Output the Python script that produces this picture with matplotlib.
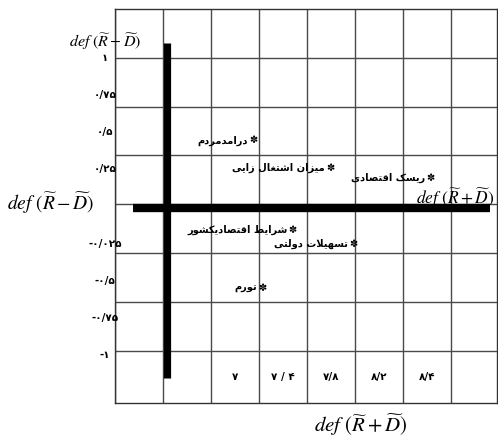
import matplotlib
matplotlib.use('Agg')
import matplotlib.pyplot as plt
from matplotlib.ticker import MultipleLocator

plt.rcParams['mathtext.fontset'] = 'stix'
plt.rcParams['font.family'] = ['DejaVu Sans']

# factors: name, def(R+D), def(R-D)
factors = ['درامدمردم', 'میزان اشتغال زایی', 'ریسک اقتصادی',
           'شرایط اقتصادیکشور', 'تسهیلات دولتی', 'تورم']
r_plus_d = [7.15, 7.79, 8.625, 7.48, 7.985, 7.225]
r_minus_d = [0.445, 0.26, 0.19, -0.16, -0.255, -0.55]

# axis labels as they are written in the source figure
y_tick_vals = [1, 0.75, 0.5, 0.25, -0.25, -0.5, -0.75, -1]
y_tick_text = ['۱', '۰/۷۵', '۰/۵', '۰/۲۵', '-۰/۰۲۵', '-۰/۵', '-۰/۷۵', '-۱']
x_tick_vals = [7.0, 7.4, 7.8, 8.2, 8.6]
x_tick_text = ['۷', '۷ / ۴', '۷/۸', '۸/۲', '۸/۴']

label_rd = r'$def\ (\widetilde{R}-\widetilde{D})$'
label_rpd = r'$def\ (\widetilde{R}+\widetilde{D})$'


# matplotlib has no arabic shaping, so pick presentation forms by hand
# (isolated, final, initial, medial)
FORMS = {
    'ا': ('\ufe8d', '\ufe8e', None, None),
    'ت': ('\ufe95', '\ufe96', '\ufe97', '\ufe98'),
    'د': ('\ufea9', '\ufeaa', None, None),
    'ر': ('\ufead', '\ufeae', None, None),
    'ز': ('\ufeaf', '\ufeb0', None, None),
    'س': ('\ufeb1', '\ufeb2', '\ufeb3', '\ufeb4'),
    'ش': ('\ufeb5', '\ufeb6', '\ufeb7', '\ufeb8'),
    'ص': ('\ufeb9', '\ufeba', '\ufebb', '\ufebc'),
    'ط': ('\ufec1', '\ufec2', '\ufec3', '\ufec4'),
    'غ': ('\ufecd', '\ufece', '\ufecf', '\ufed0'),
    'ق': ('\ufed5', '\ufed6', '\ufed7', '\ufed8'),
    'ل': ('\ufedd', '\ufede', '\ufedf', '\ufee0'),
    'م': ('\ufee1', '\ufee2', '\ufee3', '\ufee4'),
    'ن': ('\ufee5', '\ufee6', '\ufee7', '\ufee8'),
    'ه': ('\ufee9', '\ufeea', '\ufeeb', '\ufeec'),
    'و': ('\ufeed', '\ufeee', None, None),
    'ی': ('\ufbfc', '\ufbfd', '\ufbfe', '\ufbff'),
    'ک': ('\ufb8e', '\ufb8f', '\ufb90', '\ufb91'),
}


def shape(text):
    out = []
    i = 0
    prev_joins = False
    while i < len(text):
        ch = text[i]
        nxt = text[i + 1] if i + 1 < len(text) else ''
        if ch not in FORMS:
            out.append(ch)
            prev_joins = False
            i += 1
            continue
        if ch == 'ل' and nxt == 'ا':
            out.append('\ufefc' if prev_joins else '\ufefb')
            prev_joins = False
            i += 2
            continue
        dual = FORMS[ch][2] is not None
        next_joins = dual and nxt in FORMS
        if prev_joins and next_joins:
            out.append(FORMS[ch][3])
        elif prev_joins:
            out.append(FORMS[ch][1])
        elif next_joins:
            out.append(FORMS[ch][2])
        else:
            out.append(FORMS[ch][0])
        prev_joins = dual
        i += 1
    return ''.join(reversed(out))


fig = plt.figure(figsize=(4.98, 4.38), dpi=100)
ax = fig.add_axes([115 / 498, 35 / 438, 382 / 498, 394 / 438])
ax.set_xlim(6.0, 9.183)
ax.set_ylim(-1.323, 1.330)

# background table grid
ax.xaxis.set_major_locator(MultipleLocator(0.4))
ax.set_yticks([1.0, 0.67, 0.345, 0.015, -0.315, -0.645, -0.975])
ax.grid(True, color='#4a4a4a', linewidth=1.0)
ax.tick_params(length=0, labelbottom=False, labelleft=False)
for s in ax.spines.values():
    s.set_color('#333333')
    s.set_linewidth(1.0)

# thick axes of the diagram
ax.plot([6.433, 6.433], [-1.155, 1.10], color='black', lw=5.2,
        solid_capstyle='butt', zorder=4)
ax.plot([6.15, 9.125], [-0.01, -0.01], color='black', lw=6,
        solid_capstyle='butt', zorder=4)

# points with their names
for name, xv, yv in zip(factors, r_plus_d, r_minus_d):
    ax.text(xv, yv, '\u273d', ha='center', va='center', fontsize=7,
            zorder=5)
    ax.annotate(shape(name), (xv, yv), xytext=(-3.5, 0),
                textcoords='offset points', ha='right', va='center',
                fontsize=7.1, fontweight='bold', zorder=5)

for v, t in zip(y_tick_vals, y_tick_text):
    ax.text(5.917, v, t, ha='center', va='center', fontsize=7.5,
            fontweight='bold', clip_on=False)
for v, t in zip(x_tick_vals, x_tick_text):
    ax.text(v, -1.148, t, ha='center', va='center', fontsize=7.5,
            fontweight='bold')

# axis titles, written in the corners like the original
ax.text(5.917, 1.11, label_rd, ha='center', va='center', fontsize=11.5,
        clip_on=False)
ax.text(5.1, 0.02, label_rd, ha='left', va='center', fontsize=14,
        clip_on=False)
ax.text(8.833, 0.057, label_rpd, ha='center', va='center', fontsize=12.5,
        zorder=3)
ax.text(8.05, -1.475, label_rpd, ha='center', va='center', fontsize=15,
        clip_on=False)

fig.savefig('out.png')
